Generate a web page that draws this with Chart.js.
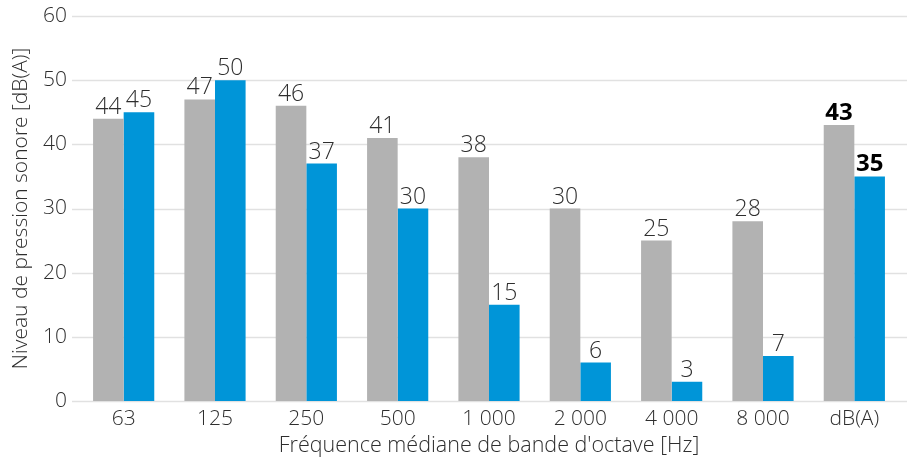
<!DOCTYPE html>
<html>
<head>
<meta charset="utf-8">
<script src="https://cdn.jsdelivr.net/npm/chart.js@4"></script>
<style>
  html, body { margin: 0; padding: 0; background: #fff; }
  #wrap { width: 914px; height: 459px; }
</style>
</head>
<body>
<div id="wrap"><canvas id="c" width="914" height="459"></canvas></div>
<script>
const categories = ['63', '125', '250', '500', '1 000', '2 000', '4 000', '8 000', 'dB(A)'];
const greyValues = [44, 47, 46, 41, 38, 30, 25, 28, 43];
const blueValues = [45, 50, 37, 30, 15, 6, 3, 7, 35];
const yTicks = [0, 10, 20, 30, 40, 50, 60];

const FONT = '"Open Sans", "Noto Sans", sans-serif';
const TEXT = '#2e2e2e';

// Horizontal grid lines that run slightly past the plot area on both sides
const gridPlugin = {
  id: 'wideGrid',
  beforeDatasetsDraw(chart) {
    const { ctx, chartArea, scales } = chart;
    ctx.save();
    ctx.strokeStyle = '#e1e1e1';
    ctx.lineWidth = 1.5;
    yTicks.forEach(v => {
      const y = Math.round(scales.y.getPixelForValue(v)) + 0.5;
      ctx.beginPath();
      ctx.moveTo(chartArea.left - 6, y);
      ctx.lineTo(chartArea.right + 7, y);
      ctx.stroke();
    });
    ctx.restore();
  }
};

// Value labels above each bar; the overall dB(A) column is bold
const valueLabels = {
  id: 'valueLabels',
  afterDatasetsDraw(chart) {
    const { ctx } = chart;
    ctx.save();
    ctx.textAlign = 'center';
    ctx.textBaseline = 'alphabetic';
    chart.data.datasets.forEach((ds, di) => {
      const meta = chart.getDatasetMeta(di);
      meta.data.forEach((bar, i) => {
        const last = i === categories.length - 1;
        ctx.font = (last ? 'bold 24px ' : '300 23px ') + FONT;
        ctx.fillStyle = last ? '#000' : TEXT;
        ctx.fillText(String(ds.data[i]), bar.x, bar.y - 5);
      });
    });
    ctx.restore();
  }
};

new Chart(document.getElementById('c'), {
  type: 'bar',
  data: {
    labels: categories,
    datasets: [
      { data: greyValues, backgroundColor: '#b2b2b2', borderWidth: 0 },
      { data: blueValues, backgroundColor: '#0095d8', borderWidth: 0 }
    ]
  },
  options: {
    responsive: false,
    animation: false,
    layout: { padding: { top: 16, right: 14, left: 0, bottom: 0 } },
    categoryPercentage: 0.67,
    barPercentage: 1.0,
    plugins: {
      legend: { display: false },
      tooltip: { enabled: false }
    },
    scales: {
      x: {
        grid: { display: false, drawTicks: false },
        border: { display: false },
        ticks: { color: TEXT, font: { family: FONT, size: 21, weight: 300 }, padding: 5, maxRotation: 0 },
        title: {
          display: true,
          text: "Fréquence médiane de bande d'octave [Hz]",
          color: TEXT,
          font: { family: FONT, size: 21.5, weight: 300 },
          padding: { top: 0, bottom: 0 }
        },
        afterFit(scale) { scale.height = 58; scale.paddingLeft = 0; scale.paddingRight = 0; }
      },
      y: {
        min: 0,
        max: 60,
        afterBuildTicks(scale) { scale.ticks = yTicks.map(v => ({ value: v })); },
        grid: { display: false, drawTicks: false },
        border: { display: false },
        ticks: { color: TEXT, font: { family: FONT, size: 21, weight: 300 }, padding: 11 },
        title: {
          display: true,
          text: 'Niveau de pression sonore [dB(A)]',
          color: TEXT,
          font: { family: FONT, size: 21, weight: 300 },
          padding: { top: 8, bottom: 0 }
        },
        afterFit(scale) { scale.width = 78; scale.paddingTop = 0; scale.paddingBottom = 0; }
      }
    }
  },
  plugins: [gridPlugin, valueLabels]
});
</script>
</body>
</html>
